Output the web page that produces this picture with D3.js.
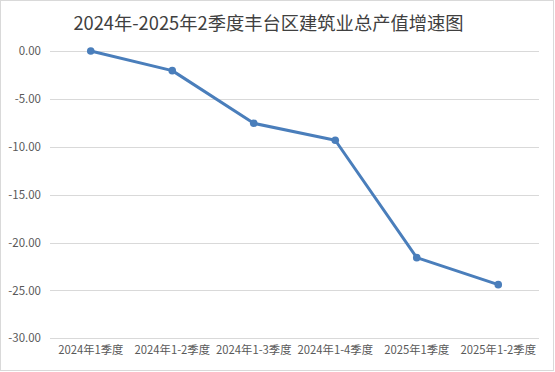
<!DOCTYPE html>
<html>
<head>
<meta charset="utf-8">
<script src="https://cdn.jsdelivr.net/npm/d3@7"></script>
<style>
  body { margin: 0; background: #fff; }
  text { font-family: "Noto Sans CJK SC", "Noto Sans", sans-serif; }
</style>
</head>
<body>
<svg width="555" height="372"></svg>
<script>
// 数据
let titulo = '2024年-2025年2季度丰台区建筑业总产值增速图'
let categorias = ['2024年1季度', '2024年1-2季度', '2024年1-3季度', '2024年1-4季度', '2025年1季度', '2025年1-2季度']
let valores = [0.0, -2.05, -7.55, -9.32, -21.58, -24.40]
let ticks_y = [0, -5, -10, -15, -20, -25, -30]

let svg = d3.select('svg')

// marco
svg.append('rect')
  .attr('x', 0.5).attr('y', 0.5)
  .attr('width', 553).attr('height', 370)
  .attr('fill', '#fff')
  .attr('stroke', '#d9d9d9')

let m = {left: 50, right: 539, top: 51, bottom: 338.3}

let x = d3.scaleBand()
  .domain(categorias)
  .range([m.left, m.right])

let y = d3.scaleLinear()
  .domain([0, -30])
  .range([m.top, m.bottom])

// grilla
svg.append('g')
  .selectAll('line')
  .data(ticks_y).enter()
  .append('line')
    .attr('x1', m.left).attr('x2', m.right)
    .attr('y1', d => Math.round(y(d)) + 0.5)
    .attr('y2', d => Math.round(y(d)) + 0.5)
    .attr('stroke', '#d9d9d9')
    .attr('stroke-width', 1)

// eje y
let ejeY = svg.append('g')
  .attr('transform', `translate(${m.left - 9}, 0)`)
  .call(d3.axisLeft(y).tickValues(ticks_y).tickFormat(d3.format('.2f')).tickSize(0).tickPadding(0))
ejeY.select('.domain').remove()
ejeY.selectAll('text')
  .attr('fill', '#595959')
  .style('font-size', '11.5px')
  .text(d => d3.format('.2f')(d).replace('−', '-'))

// eje x
let ejeX = svg.append('g')
  .attr('transform', `translate(0, ${m.bottom + 8})`)
  .call(d3.axisBottom(x).tickSize(0).tickPadding(0))
ejeX.select('.domain').remove()
ejeX.selectAll('text')
  .attr('fill', '#595959')
  .attr('dy', '0.71em')
  .style('font-size', '11.3px')

// serie
let puntos = categorias.map((c, i) => ({c, v: valores[i]}))
let cx = d => x(d.c) + x.bandwidth() / 2

svg.append('path')
  .datum(puntos)
  .attr('fill', 'none')
  .attr('stroke', '#4a7ebb')
  .attr('stroke-width', 3)
  .attr('stroke-linejoin', 'round')
  .attr('d', d3.line().x(cx).y(d => y(d.v)))

svg.append('g')
  .selectAll('circle')
  .data(puntos).enter()
  .append('circle')
    .attr('cx', cx)
    .attr('cy', d => y(d.v))
    .attr('r', 3.8)
    .attr('fill', '#4a7ebb')

// titulo
svg.append('text')
  .attr('x', 268.5)
  .attr('y', 30)
  .attr('text-anchor', 'middle')
  .attr('fill', '#404040')
  .style('font-size', '18.3px')
  .text(titulo)
</script>
</body>
</html>
